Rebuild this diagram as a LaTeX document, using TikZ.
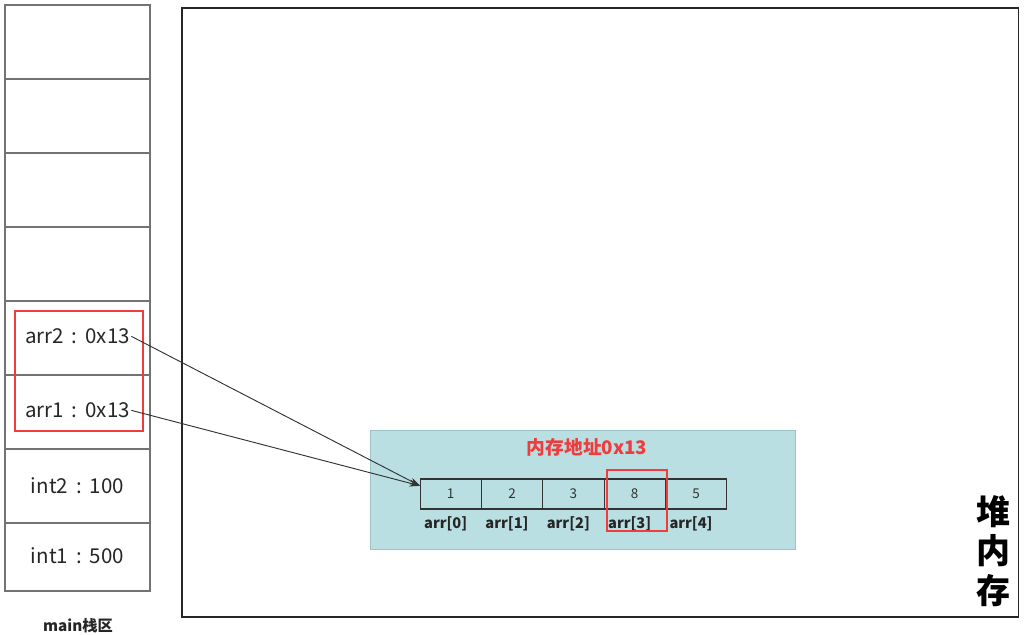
\documentclass[tikz,border=0pt]{standalone}
\usepackage{fontspec}
\setmainfont{Noto Sans CJK SC}
\usetikzlibrary{positioning,arrows.meta}
\definecolor{heapteal}{HTML}{B9DFE2}
\definecolor{heapedge}{HTML}{9CC4C8}
\definecolor{markred}{HTML}{F03C3C}

\begin{document}
\begin{tikzpicture}[
        x=0.03cm, y=-0.03cm,
        slot/.style={draw=black!55, line width=1.2pt, minimum width=4.35cm, minimum height=2.22cm, inner sep=0pt, outer sep=0pt},
        slottext/.style={text=black!85, inner sep=1pt, font=\fontsize{17.5}{20}\selectfont},
        heapbox/.style={draw=black!85, line width=0.9pt, minimum width=25.08cm, minimum height=18.27cm, inner sep=0pt},
        region/.style={draw=heapedge, fill=heapteal, line width=0.8pt, minimum width=12.75cm, minimum height=3.57cm, inner sep=0pt},
        elem/.style={draw=black!80, line width=0.9pt, minimum width=1.84cm, minimum height=0.9cm, inner sep=0pt, outer sep=0pt, font=\fontsize{11.5}{13}\selectfont, text=black!80},
        idx/.style={font=\bfseries\fontsize{12.5}{14}\selectfont, text=black!85, inner sep=1pt, xshift=-0.15cm},
        redframe/.style={draw=markred, line width=0.9pt, inner sep=0pt},
        ptr/.style={-{Stealth[length=9pt,width=6pt]}, line width=0.8pt, black!80}
    ]
    \useasboundingbox (0,0) rectangle (1028,634);

    % --- main stack ---
    \node[slot] (s1) at (77.5,42) {};
    \node[slot, below=0pt of s1] (s2) {};
    \node[slot, below=0pt of s2] (s3) {};
    \node[slot, below=0pt of s3] (s4) {};
    \node[slot, below=0pt of s4] (s5) {};
    \node[slot, below=0pt of s5] (s6) {};
    \node[slot, below=0pt of s6] (s7) {};
    \node[slot, below=0pt of s7, minimum height=2.04cm] (s8) {};

    \node[slottext] (v2) at ([yshift=0.05cm]s5) {arr2\,\ :\,\ 0x13};
    \node[slottext] (v1) at ([yshift=0.05cm]s6) {arr1\,\ :\,\ 0x13};
    \node[slottext] (i2) at ([yshift=0.02cm]s7) {int2\,\ :\,\ 100};
    \node[slottext] (i1) at ([yshift=0.05cm]s8) {int1\,\ :\,\ 500};
    \node[redframe, minimum width=3.84cm, minimum height=3.6cm] (refs) at (79,371) {};
    \node[font=\bfseries\fontsize{13}{15}\selectfont, text=black!85] (stack) at (78,626) {main栈区};

    % --- heap ---
    \node[heapbox] (heap) at (600,312.5) {};
    \node[font=\bfseries\fontsize{29}{31}\selectfont, align=center, text=black] (heaplbl) at (993,551) {堆\\[3pt]内\\[3pt]存};

    \node[region] (area) at (582.5,489.5) {};
    \node[font=\bfseries\fontsize{16}{19}\selectfont, text=markred] (addr) at (587,447) {内存地址0x13};

    % --- array cells ---
    \node[elem] (a0) at (450.7,494) {1};
    \node[elem, right=0pt of a0] (a1) {2};
    \node[elem, right=0pt of a1] (a2) {3};
    \node[elem, right=0pt of a2] (a3) {8};
    \node[elem, right=0pt of a3] (a4) {5};

    \node[idx, below=0.18cm of a0] (l0) {arr[0]};
    \node[idx, below=0.18cm of a1] (l1) {arr[1]};
    \node[idx, below=0.18cm of a2] (l2) {arr[2]};
    \node[idx, below=0.18cm of a3] (l3) {arr[3]};
    \node[idx, below=0.18cm of a4] (l4) {arr[4]};

    \node[redframe, minimum width=1.8cm, minimum height=1.83cm] (hl) at (637,500.5) {};

    % --- references ---
    \draw[ptr] (v2.east) -- (a0.165);
    \draw[ptr] (v1.east) -- (a0.165);

\end{tikzpicture}
\end{document}
